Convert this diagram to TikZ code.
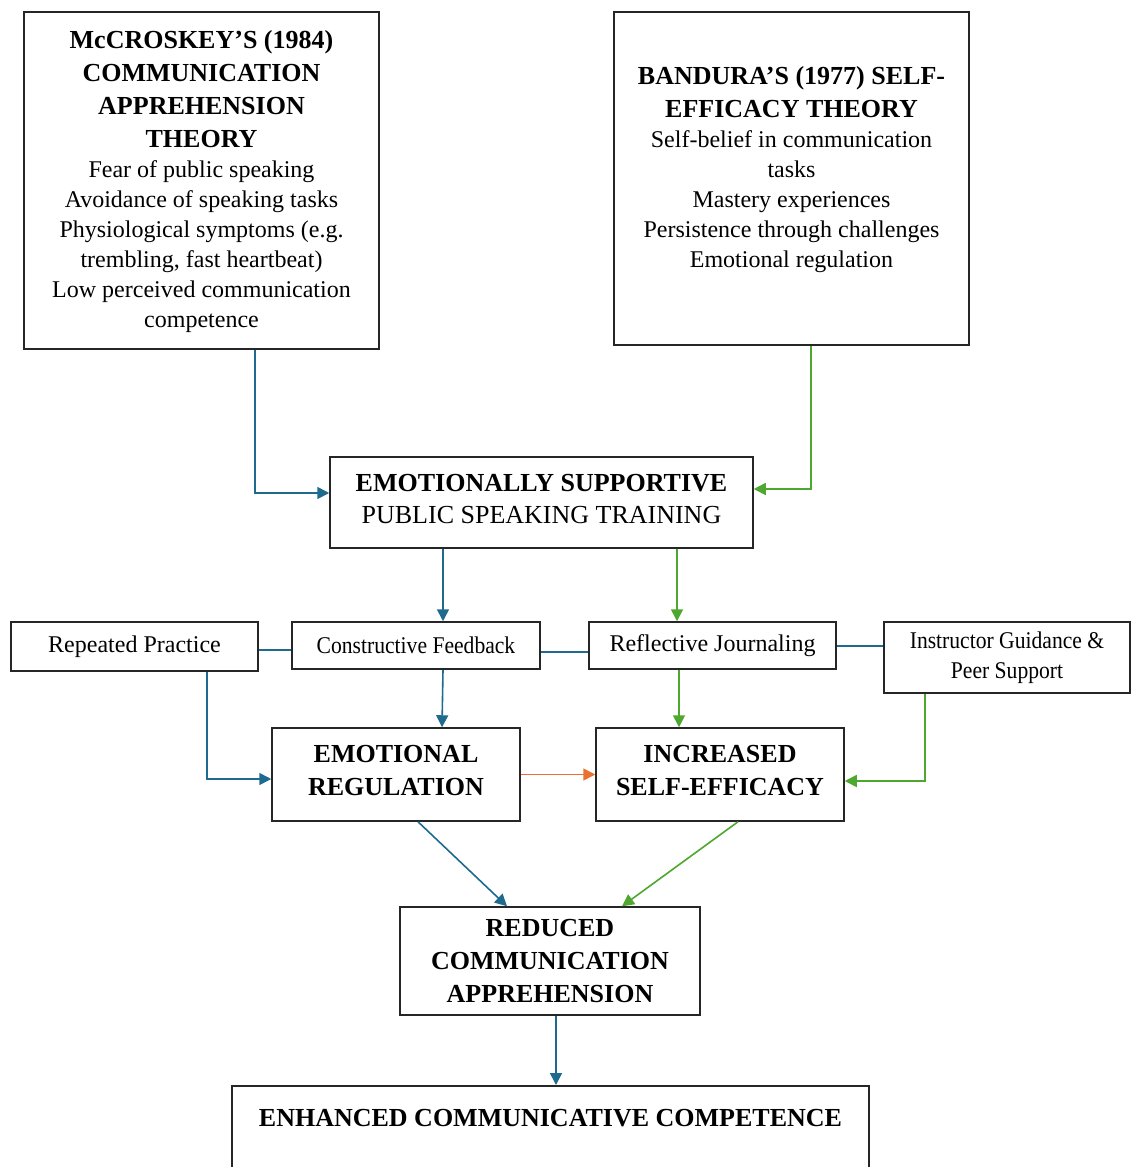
\documentclass[tikz,border=0pt]{standalone}
\usepackage{fontspec}
\setmainfont{Liberation Serif}
\newfontfamily\condfont[FakeStretch=0.9]{Liberation Serif}
\usetikzlibrary{arrows.meta}
\usetikzlibrary{positioning}

\definecolor{lineblue}{HTML}{1F6A8F}
\definecolor{linegreen}{HTML}{4EA72E}
\definecolor{lineorange}{HTML}{E97132}

\newcommand{\hd}{\fontsize{13}{16.5}\selectfont\bfseries}

\begin{document}
\begin{tikzpicture}[x=0.5pt,y=-0.5pt,
    box/.style={draw=black!85,line width=0.75pt,align=center,inner sep=0pt,
        font=\fontsize{12}{15}\selectfont},
    blueln/.style={draw=lineblue,line width=0.8pt},
    greenln/.style={draw=linegreen,line width=0.8pt},
    orangeln/.style={draw=lineorange,line width=0.8pt},
    arr/.style={-{Triangle[length=6pt,width=6pt]}}]

    \useasboundingbox[fill=white] (0,0) rectangle (1131,1167);

    % theory boxes
    \node[box,minimum width=177.5pt,minimum height=168.5pt] (mcc) at (201.5,180.5)
        {{\hd McCROSKEY’S (1984)}\\[1.5pt]{\hd COMMUNICATION}\\[1.5pt]{\hd APPREHENSION}\\[1.5pt]{\hd THEORY}\\
         Fear of public speaking\\Avoidance of speaking tasks\\Physiological symptoms (e.g.\\
         trembling, fast heartbeat)\\Low perceived communication\\competence\\[-13pt]\mbox{}};
    \node[box,minimum width=177.5pt,minimum height=166.5pt] (band) at (791.5,178.5)
        {{\hd BANDURA’S (1977) SELF-}\\[1.5pt]{\hd EFFICACY THEORY}\\Self-belief in communication\\
         tasks\\Mastery experiences\\Persistence through challenges\\Emotional regulation\\[-3pt]\mbox{}};

    \node[box,minimum width=211.5pt,minimum height=45.5pt] (est) at (541.5,502.5)
        {{\hd EMOTIONALLY SUPPORTIVE}\\[1pt]{\fontsize{13}{16.5}\selectfont PUBLIC SPEAKING TRAINING}\\[-11pt]\mbox{}};

    % strategies
    \node[box,minimum width=123.5pt,minimum height=24.5pt] (rp) at (134.5,646.5) {Repeated Practice};
    \node[box,minimum width=124pt,minimum height=23.5pt] (cf) at (416,645.5) {\condfont Constructive Feedback};
    \node[box,minimum width=123.5pt,minimum height=23.5pt] (rj) at (712.5,645.5) {Reflective Journaling};
    \node[box,minimum width=123pt,minimum height=35.5pt] (ig) at (1007,657.5)
        {\condfont Instructor Guidance \&\\\condfont Peer Support};

    % outcomes
    \node[box,minimum width=124pt,minimum height=46.5pt] (er) at (396,774.5)
        {{\hd EMOTIONAL}\\[1.5pt]{\hd REGULATION}\\[-11pt]\mbox{}};
    \node[box,minimum width=124pt,minimum height=46.5pt] (ise) at (720,774.5)
        {{\hd INCREASED}\\[1.5pt]{\hd SELF-EFFICACY}\\[-11pt]\mbox{}};
    \node[box,minimum width=150pt,minimum height=54pt] (rca) at (550,961)
        {{\hd REDUCED}\\[1.5pt]{\hd COMMUNICATION}\\[1.5pt]{\hd APPREHENSION}};
    \node[box,anchor=north,minimum width=318.5pt,inner ysep=2pt,text height=18.5pt,text depth=40pt] (ecc) at (550.5,1085)
        {\hd ENHANCED COMMUNICATIVE COMPETENCE};

    % connectors
    \draw[blueln,arr] ([xshift=26.75pt]mcc.south) |- ([yshift=4.75pt]est.west);
    \draw[greenln,arr] ([xshift=9.75pt]band.south) |- ([yshift=6.75pt]est.east);

    \coordinate (cftop) at ([xshift=13.5pt]cf.north);
    \coordinate (rjtop) at ([xshift=-17.75pt]rj.north);
    \draw[blueln,arr] (cftop |- est.south) -- (cftop);
    \draw[greenln,arr] (rjtop |- est.south) -- (rjtop);

    \draw[blueln] ([yshift=-1.75pt]rp.east) -- ([yshift=-1.75pt]rp.east -| cf.west);
    \draw[blueln] ([yshift=-3.25pt]cf.east) -- ([yshift=-3.25pt]cf.east -| rj.west);
    \draw[blueln] ([yshift=-0.25pt]rj.east) -- ([yshift=-0.25pt]rj.east -| ig.west);

    \draw[blueln,arr] ([xshift=36.25pt]rp.south) |- ([yshift=-2.25pt]er.west);
    \draw[blueln,arr] ([xshift=13.5pt]cf.south) -- ([xshift=23pt]er.north);
    \draw[orangeln,arr] (er.east) -- (ise.west);
    \draw[greenln,arr] ([xshift=-16.75pt]rj.south) -- ([xshift=-20.5pt]ise.north);
    \draw[greenln,arr] ([xshift=-41pt]ig.south) |- ([yshift=-3.25pt]ise.east);

    \draw[blueln,arr] ([xshift=11pt]er.south) -- ([xshift=-21.5pt]rca.north);
    \draw[greenln,arr] ([xshift=9pt]ise.south) -- ([xshift=36pt]rca.north);
    \draw[blueln,arr] ([xshift=3pt]rca.south) -- ([xshift=2.75pt]ecc.north);
\end{tikzpicture}
\end{document}
